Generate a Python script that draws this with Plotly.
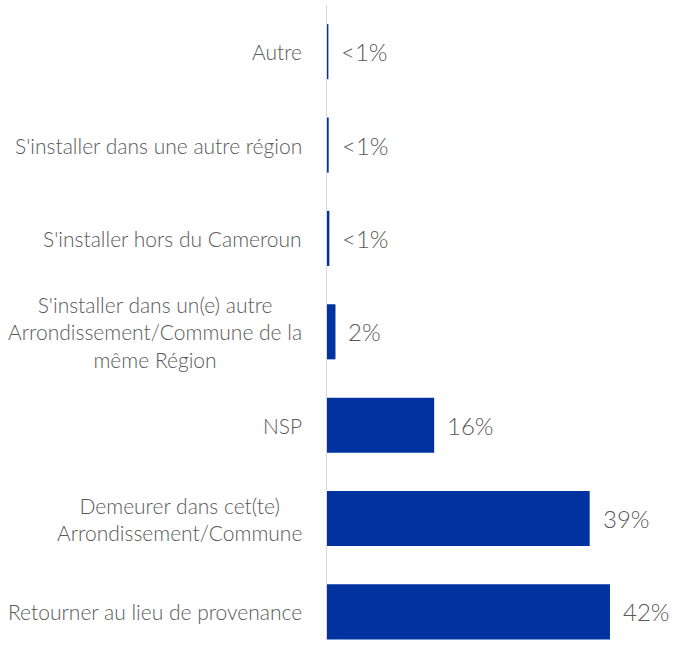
import plotly.graph_objects as go

categories = [
    "Retourner au lieu de provenance",
    "Demeurer dans cet(te)<br>Arrondissement/Commune",
    "NSP",
    "S'installer dans un(e) autre<br>Arrondissement/Commune de la<br>même Région",
    "S'installer hors du Cameroun",
    "S'installer dans une autre région",
    "Autre",
]
values = [42, 39, 16, 1.4, 0.5, 0.4, 0.35]
value_labels = ["42%", "39%", "16%", "2%", "<1%", "<1%", "<1%"]

BLUE = "#0033A0"
GREY = "#595959"
FONT = "Lato"

fig = go.Figure()
fig.add_trace(go.Bar(
    y=list(range(len(categories))), x=values, orientation="h",
    marker=dict(color=BLUE, line=dict(width=0)),
    width=0.59, hoverinfo="skip",
))

annotations = []
for i, (v, t) in enumerate(zip(values, value_labels)):
    annotations.append(dict(
        x=v, y=i, xref="x", yref="y", text=t, showarrow=False,
        xanchor="left", yanchor="middle", xshift=11,
        font=dict(family=FONT, size=24, color=GREY, weight=300),
    ))
for i, c in enumerate(categories):
    annotations.append(dict(
        x=0, y=i, xref="paper", yref="y", text=c, showarrow=False,
        xanchor="right", yanchor="middle", align="center", xshift=-22,
        font=dict(family=FONT, size=21, color=GREY, weight=300),
    ))

fig.add_shape(type="line", xref="x", yref="paper", x0=0, x1=0, y0=0.02, y1=1.0,
              line=dict(color="#d9d9d9", width=2))

fig.update_layout(
    width=683, height=653,
    margin=dict(l=326, r=0, t=5, b=0),
    paper_bgcolor="white", plot_bgcolor="white",
    showlegend=False,
    xaxis=dict(range=[0, 52.8], visible=False),
    yaxis=dict(range=[-0.44, 6.5], visible=False),
    annotations=annotations,
)
fig.write_html("out.html", config={"displayModeBar": False},
               post_script="document.body.style.margin='0';")
